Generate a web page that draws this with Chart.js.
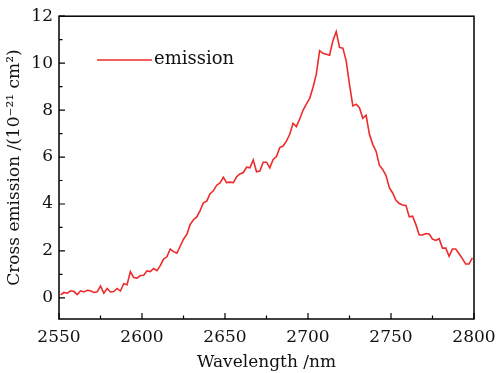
<!DOCTYPE html>
<html>
<head>
<meta charset="utf-8">
<script src="https://cdn.jsdelivr.net/npm/chart.js@4/dist/chart.umd.min.js"></script>
<style>
  html, body { margin: 0; padding: 0; background: #fff; }
  #wrap { width: 498px; height: 373px; }
</style>
</head>
<body>
<div id="wrap"><canvas id="chart"></canvas></div>
<script>
const wavelengths = [
  2551, 2553, 2555, 2557, 2559, 2561, 2563, 2565, 2567, 2569,
  2571, 2573, 2575, 2577, 2579, 2581, 2583, 2585, 2587, 2589,
  2591, 2593, 2595, 2597, 2599, 2601, 2603, 2605, 2607, 2609,
  2611, 2613, 2615, 2617, 2619, 2621, 2623, 2625, 2627, 2629,
  2631, 2633, 2635, 2637, 2639, 2641, 2643, 2645, 2647, 2649,
  2651, 2653, 2655, 2657, 2659, 2661, 2663, 2665, 2667, 2669,
  2671, 2673, 2675, 2677, 2679, 2681, 2683, 2685, 2687, 2689,
  2691, 2693, 2695, 2697, 2699, 2701, 2703, 2705, 2707, 2709,
  2711, 2713, 2715, 2717, 2719, 2721, 2723, 2725, 2727, 2729,
  2731, 2733, 2735, 2737, 2739, 2741, 2743, 2745, 2747, 2749,
  2751, 2753, 2755, 2757, 2759, 2761, 2763, 2765, 2767, 2769,
  2771, 2773, 2775, 2777, 2779, 2781, 2783, 2785, 2787, 2789,
  2791, 2793, 2795, 2797, 2799
];

const emission = [
  0.13, 0.23, 0.20, 0.30, 0.27, 0.14, 0.30, 0.25, 0.32, 0.30,
  0.23, 0.26, 0.51, 0.20, 0.40, 0.25, 0.27, 0.40, 0.29, 0.60,
  0.56, 1.12, 0.87, 0.84, 0.95, 0.96, 1.15, 1.12, 1.25, 1.16,
  1.37, 1.65, 1.75, 2.08, 1.97, 1.90, 2.20, 2.50, 2.70, 3.12,
  3.33, 3.45, 3.72, 4.05, 4.12, 4.44, 4.56, 4.80, 4.90, 5.14,
  4.91, 4.93, 4.91, 5.16, 5.28, 5.34, 5.57, 5.54, 5.88, 5.37,
  5.40, 5.78, 5.78, 5.54, 5.90, 6.02, 6.40, 6.47, 6.68, 6.97,
  7.44, 7.30, 7.62, 7.99, 8.25, 8.50, 8.96, 9.53, 10.53, 10.42,
  10.38, 10.34, 10.95, 11.34, 10.67, 10.64, 10.10, 9.10, 8.18, 8.25,
  8.10, 7.65, 7.78, 6.97, 6.54, 6.25, 5.65, 5.47, 5.21, 4.69,
  4.47, 4.16, 4.02, 3.96, 3.94, 3.45, 3.48, 3.12, 2.68, 2.68,
  2.74, 2.72, 2.50, 2.45, 2.52, 2.12, 2.12, 1.77, 2.08, 2.08,
  1.88, 1.67, 1.44, 1.44, 1.70
];

const xTicks = [2550, 2600, 2650, 2700, 2750, 2800];
const yTicks = [0, 2, 4, 6, 8, 10, 12];

const serif = "'DejaVu Serif', 'Liberation Serif', serif";
const lineColor = '#ee2a2a';

// frame, inward major/minor ticks and the in-plot legend
const framePlugin = {
  id: 'frame',
  afterDraw(chart) {
    const { ctx, chartArea: a, scales } = chart;
    const x = scales.x, y = scales.y;
    ctx.save();
    ctx.strokeStyle = '#000';
    ctx.lineWidth = 1.5;
    ctx.strokeRect(a.left, a.top, a.right - a.left, a.bottom - a.top);

    ctx.lineWidth = 1.2;
    ctx.beginPath();
    for (let v = 2550; v <= 2800; v += 25) {
      const px = x.getPixelForValue(v);
      const len = v % 50 === 0 ? 6 : 3.5;
      ctx.moveTo(px, a.bottom);
      ctx.lineTo(px, a.bottom - len);
    }
    for (let v = 0; v <= 12; v += 1) {
      const py = y.getPixelForValue(v);
      const len = v % 2 === 0 ? 6 : 3.5;
      ctx.moveTo(a.left, py);
      ctx.lineTo(a.left + len, py);
    }
    ctx.stroke();

    // legend entry
    const ds = chart.data.datasets[0];
    ctx.strokeStyle = ds.borderColor;
    ctx.lineWidth = 1.6;
    ctx.beginPath();
    ctx.moveTo(97, 60);
    ctx.lineTo(152, 60);
    ctx.stroke();
    ctx.fillStyle = '#111';
    ctx.font = '18px ' + serif;
    ctx.textBaseline = 'middle';
    ctx.fillText(ds.label, 154, 59);
    ctx.restore();
  }
};

new Chart(document.getElementById('chart'), {
  type: 'line',
  data: {
    datasets: [{
      label: 'emission',
      data: wavelengths.map((w, i) => ({ x: w, y: emission[i] })),
      borderColor: lineColor,
      borderWidth: 1.6,
      pointRadius: 0,
      tension: 0,
      fill: false
    }]
  },
  options: {
    responsive: true,
    maintainAspectRatio: false,
    animation: false,
    layout: { padding: { top: 16, right: 0, left: 0, bottom: 0 } },
    plugins: {
      legend: { display: false },
      tooltip: { enabled: false }
    },
    scales: {
      x: {
        type: 'linear',
        min: 2550,
        max: 2800,
        afterBuildTicks: (s) => { s.ticks = xTicks.map(v => ({ value: v })); },
        afterFit: (s) => {
          s.height = 54;
          s.paddingLeft = 0;
          s.paddingRight = 24;
        },
        grid: { display: false, drawTicks: false },
        border: { display: false },
        ticks: {
          color: '#111',
          padding: 8,
          maxRotation: 0,
          font: { family: serif, size: 17 },
          callback: (v) => String(v)
        },
        title: {
          display: true,
          text: 'Wavelength /nm',
          color: '#111',
          font: { family: serif, size: 17 },
          padding: 0
        }
      },
      y: {
        min: -0.9,
        max: 12,
        afterBuildTicks: (s) => { s.ticks = yTicks.map(v => ({ value: v })); },
        afterFit: (s) => { s.width = 59; },
        grid: { display: false, drawTicks: false },
        border: { display: false },
        ticks: {
          color: '#111',
          padding: 6,
          font: { family: serif, size: 17 },
          callback: (v) => String(v)
        },
        title: {
          display: true,
          text: 'Cross emission /(10⁻²¹ cm²)',
          color: '#111',
          font: { family: serif, size: 17 },
          padding: { top: 4, bottom: 0 }
        }
      }
    }
  },
  plugins: [framePlugin]
});
</script>
</body>
</html>
